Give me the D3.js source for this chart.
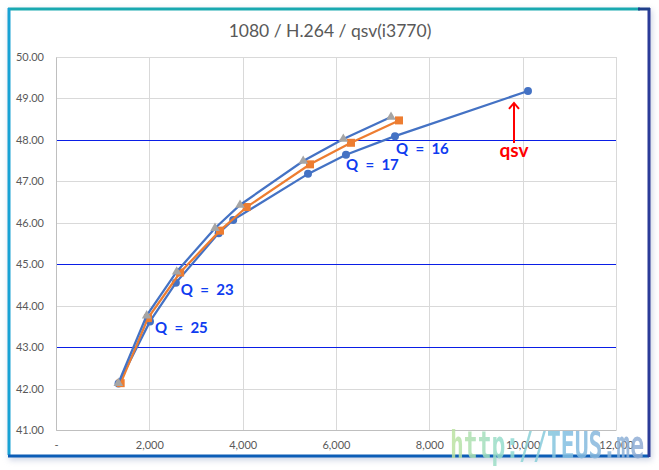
<!DOCTYPE html>
<html>
<head>
<meta charset="utf-8">
<script src="https://cdn.jsdelivr.net/npm/d3@7"></script>
<style>
  body { margin: 0; background: #fff; }
  svg text { font-family: Lato, "Open Sans", sans-serif; }
</style>
</head>
<body>
<div id="chart"></div>
<script>
// data
var chartTitle = "1080 / H.264 / qsv(i3770)";

var qsvX = [1340, 2014, 2568, 3486, 3797, 5400, 6214, 7264, 10114];
var qsvY = [42.12, 43.62, 44.55, 45.75, 46.07, 47.18, 47.64, 48.09, 49.18];

var orangeX = [1386, 1971, 2660, 3514, 4086, 5443, 6321, 7350];
var orangeY = [42.13, 43.70, 44.80, 45.81, 46.38, 47.41, 47.93, 48.47];

var grayX = [1336, 1943, 2586, 3407, 3943, 5297, 6157, 7179];
var grayY = [42.13, 43.76, 44.82, 45.87, 46.43, 47.49, 48.02, 48.55];

var xTicks = [0, 2000, 4000, 6000, 8000, 10000, 12000];
var yTicks = [41, 42, 43, 44, 45, 46, 47, 48, 49, 50];
var refLines = [48, 45, 43];

var qLabels = ["Q  =  25", "Q  =  23", "Q  =  17", "Q  =  16"];
var qIndex = [1, 2, 6, 7];
var qsvLabel = "qsv";

var W = 659, H = 470;
var margin = {top: 57, right: 43, bottom: 40, left: 56},
    width = 616 - margin.left,
    height = 430 - margin.top;

var svg = d3.select("#chart")
  .append("svg")
    .attr("width", W)
    .attr("height", H);

var defs = svg.append("defs");
var sh = defs.append("filter").attr("id", "shadow")
  .attr("x", "-5%").attr("y", "-5%").attr("width", "110%").attr("height", "110%");
sh.append("feGaussianBlur").attr("stdDeviation", 3);

var wm = defs.append("linearGradient").attr("id", "wm");
wm.append("stop").attr("offset", "0%").attr("stop-color", "#bfe3a0");
wm.append("stop").attr("offset", "30%").attr("stop-color", "#92dcd2");
wm.append("stop").attr("offset", "60%").attr("stop-color", "#82bfe2");
wm.append("stop").attr("offset", "100%").attr("stop-color", "#92acd4");

// frame
svg.append("rect")
  .attr("x", 9).attr("y", 10).attr("width", 643).attr("height", 450)
  .attr("fill", "#9aa6c8").attr("opacity", 0.5)
  .attr("filter", "url(#shadow)");
svg.append("rect")
  .attr("x", 8).attr("y", 9).attr("width", 641).attr("height", 448)
  .attr("fill", "#fff");
// borders
svg.append("line").attr("x1", 8).attr("y1", 9).attr("x2", 640).attr("y2", 9)
  .attr("stroke", "#1aa9b0").attr("stroke-width", 3);
svg.append("line").attr("x1", 9).attr("y1", 8).attr("x2", 9).attr("y2", 455)
  .attr("stroke", "#18a2d4").attr("stroke-width", 3);
svg.append("line").attr("x1", 8).attr("y1", 456).attr("x2", 649).attr("y2", 456)
  .attr("stroke", "#0c5db6").attr("stroke-width", 3);
svg.append("line").attr("x1", 649).attr("y1", 8).attr("x2", 649).attr("y2", 457)
  .attr("stroke", "#2b3b98").attr("stroke-width", 3);
svg.append("line").attr("x1", 638).attr("y1", 9).attr("x2", 650).attr("y2", 9)
  .attr("stroke", "#1f3f8a").attr("stroke-width", 3);

// title
svg.append("text")
  .attr("x", 330).attr("y", 37)
  .attr("text-anchor", "middle")
  .attr("fill", "#595959")
  .style("font-size", "17.5px")
  .text(chartTitle);

var g = svg.append("g")
  .attr("transform", "translate(" + margin.left + "," + margin.top + ")");

var x = d3.scaleLinear().domain([0, 12000]).range([0, width]);
var y = d3.scaleLinear().domain([41, 50]).range([height, 0]);

// grid
g.selectAll(".hgrid").data(yTicks).enter().append("line")
  .attr("x1", 0).attr("x2", width)
  .attr("y1", function(d) { return Math.round(y(d)) + 0.5; })
  .attr("y2", function(d) { return Math.round(y(d)) + 0.5; })
  .attr("stroke", "#d9d9d9");
g.selectAll(".vgrid").data(xTicks.slice(1)).enter().append("line")
  .attr("y1", 0).attr("y2", height)
  .attr("x1", function(d) { return Math.round(x(d)) + 0.5; })
  .attr("x2", function(d) { return Math.round(x(d)) + 0.5; })
  .attr("stroke", "#d9d9d9");

// reference lines
g.selectAll(".ref").data(refLines).enter().append("line")
  .attr("x1", 0).attr("x2", width)
  .attr("y1", function(d) { return Math.round(y(d)) + 0.5; })
  .attr("y2", function(d) { return Math.round(y(d)) + 0.5; })
  .attr("stroke", "#0a1ee6").attr("stroke-width", 1.2);

// axes
var yAxis = g.append("g")
  .call(d3.axisLeft(y).tickValues(yTicks).tickFormat(d3.format(".2f")).tickSize(0).tickPadding(12));
yAxis.select(".domain").attr("stroke", "#bfbfbf");
yAxis.selectAll("text").attr("fill", "#595959").style("font-size", "11px");

var xAxis = g.append("g")
  .attr("transform", "translate(0," + height + ")")
  .call(d3.axisBottom(x).tickValues(xTicks)
    .tickFormat(function(d) { return d === 0 ? "-" : d3.format(",")(d); })
    .tickSize(0).tickPadding(11));
xAxis.select(".domain").attr("stroke", "#bfbfbf");
xAxis.selectAll("text").attr("fill", "#595959").style("font-size", "11px");

function series(xs, ys) {
  return xs.map(function(v, i) { return {x: v, y: ys[i]}; });
}
var line = d3.line().x(function(d) { return x(d.x); }).y(function(d) { return y(d.y); });

var qsv = series(qsvX, qsvY);
var orange = series(orangeX, orangeY);
var gray = series(grayX, grayY);

// circles series
g.append("path").datum(qsv)
  .attr("fill", "none").attr("stroke", "#4472c4").attr("stroke-width", 2.25)
  .attr("d", line);
g.selectAll(".c").data(qsv).enter().append("circle")
  .attr("cx", function(d) { return x(d.x); })
  .attr("cy", function(d) { return y(d.y); })
  .attr("r", 4).attr("fill", "#4472c4");

// squares series
g.append("path").datum(orange)
  .attr("fill", "none").attr("stroke", "#ed7d31").attr("stroke-width", 2.25)
  .attr("d", line);
g.selectAll(".s").data(orange).enter().append("rect")
  .attr("x", function(d) { return x(d.x) - 4; })
  .attr("y", function(d) { return y(d.y) - 4; })
  .attr("width", 8).attr("height", 8).attr("fill", "#ed7d31");

// triangles series
g.append("path").datum(gray)
  .attr("fill", "none").attr("stroke", "#4472c4").attr("stroke-width", 2.25)
  .attr("d", line);
g.selectAll(".t").data(gray).enter().append("path")
  .attr("transform", function(d) { return "translate(" + x(d.x) + "," + y(d.y) + ")"; })
  .attr("d", d3.symbol().type(d3.symbolTriangle).size(40))
  .attr("fill", "#a5a5a5");

// Q labels
var qOff = [[5, 12], [5, 12], [0, 15], [1, 18]];
g.selectAll(".q").data(qLabels).enter().append("text")
  .attr("x", function(d, i) { return x(qsvX[qIndex[i]]) + qOff[i][0]; })
  .attr("y", function(d, i) { return y(qsvY[qIndex[i]]) + qOff[i][1]; })
  .attr("xml:space", "preserve")
  .attr("fill", "#0f3cf0")
  .style("font-size", "15px").style("font-weight", "bold")
  .text(function(d) { return d; });

// qsv label + arrow
var last = qsv[qsv.length - 1];
var ax = x(last.x) - 14, ay = y(last.y);
g.append("line")
  .attr("x1", ax).attr("x2", ax)
  .attr("y1", ay + 12).attr("y2", ay + 52)
  .attr("stroke", "#ff0000").attr("stroke-width", 2);
g.append("path")
  .attr("d", "M" + (ax - 5) + "," + (ay + 18) + "L" + ax + "," + (ay + 12) + "L" + (ax + 5) + "," + (ay + 18))
  .attr("fill", "none").attr("stroke", "#ff0000").attr("stroke-width", 2);
g.append("text")
  .attr("x", ax).attr("y", ay + 66)
  .attr("text-anchor", "middle")
  .attr("fill", "#ff0000")
  .style("font-size", "19px").style("font-weight", "bold")
  .text(qsvLabel);

// watermark
svg.append("text")
  .attr("x", 450).attr("y", 458)
  .attr("textLength", 194).attr("lengthAdjust", "spacingAndGlyphs")
  .attr("fill", "url(#wm)").attr("opacity", 0.85)
  .style("font-family", "'DejaVu Sans Mono', monospace")
  .style("font-size", "37px").style("font-weight", "bold")
  .text("http://TEUS.me");
</script>
</body>
</html>
